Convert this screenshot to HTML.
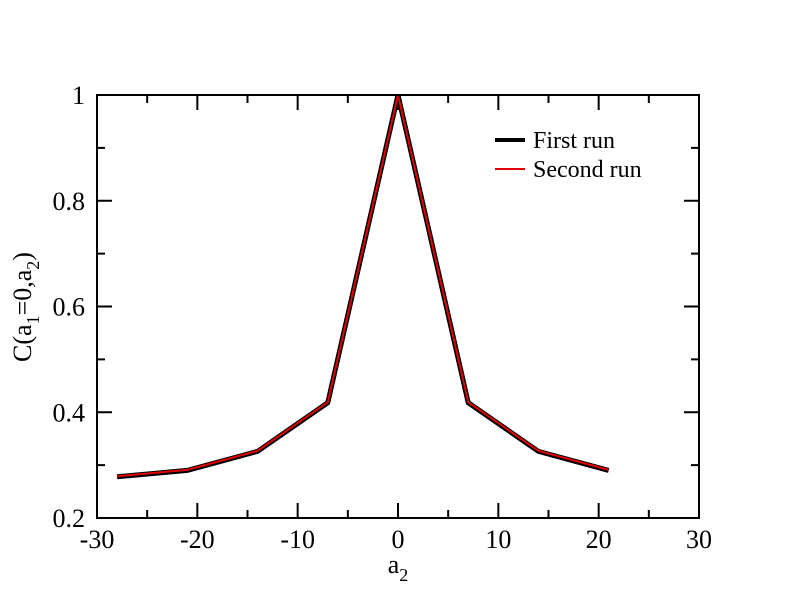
<!DOCTYPE html>
<html><head><meta charset="utf-8"><style>
html,body{margin:0;padding:0;background:#fff}
svg{display:block;font-family:"Liberation Serif",serif}
</style></head><body>
<svg id="chart" width="792" height="609" viewBox="0 0 792 609" xmlns="http://www.w3.org/2000/svg">
<rect x="0" y="0" width="792" height="609" fill="#fff"/>
<g id="ticks"></g>
<g id="lines"></g>
<rect x="97" y="95" width="602" height="423" fill="none" stroke="#000" stroke-width="2"/>
<text x="398" y="573" font-size="26" text-anchor="middle">a<tspan font-size="18" dy="8">2</tspan></text>
<text transform="translate(31,307) rotate(-90)" font-size="26" text-anchor="middle">C(a<tspan font-size="18" dy="8">1</tspan><tspan dy="-8">=0,a</tspan><tspan font-size="18" dy="8">2</tspan><tspan dy="-8">)</tspan></text>
<g>
<line x1="495" y1="140" x2="525" y2="140" stroke="#000" stroke-width="4"/>
<text x="533" y="148" font-size="24">First run</text>
<line x1="495" y1="169" x2="525" y2="169" stroke="#e00000" stroke-width="2"/>
<text x="533" y="177" font-size="24">Second run</text>
</g>
</svg>
<script>
const xValues = [-28, -21, -14, -7, 0, 7, 14, 21];
const firstRun = [0.278, 0.290, 0.326, 0.418, 1.0, 0.418, 0.326, 0.290];
const secondRun = [0.279, 0.291, 0.327, 0.419, 1.0, 0.419, 0.327, 0.291];
const xTicks = [-30, -20, -10, 0, 10, 20, 30];
const yTicks = [0.2, 0.4, 0.6, 0.8, 1];
const yTickLabels = ["0.2", "0.4", "0.6", "0.8", "1"];

const NS = "http://www.w3.org/2000/svg";
const L = 97, R = 699, T = 95, B = 518;
function sx(v){ return L + (v + 30) / 60 * (R - L); }
function sy(v){ return B - (v - 0.2) / 0.8 * (B - T); }
function mk(tag, attrs, parent){
  const e = document.createElementNS(NS, tag);
  for (const k in attrs) e.setAttribute(k, attrs[k]);
  parent.appendChild(e); return e;
}
const tg = document.getElementById('ticks');
// x ticks major + minor
for (let v = -30; v <= 30; v += 5) {
  const major = v % 10 === 0;
  const len = major ? 15 : 8;
  const x = sx(v);
  const t1 = mk('line', {x1:x, y1:B, x2:x, y2:B-len, stroke:'#000', 'stroke-width':2}, tg);
  
  
  const t2 = mk('line', {x1:x, y1:T, x2:x, y2:T+len, stroke:'#000', 'stroke-width':2}, tg);
  
  
}
xTicks.forEach(v => {
  const t = mk('text', {x:sx(v), y:B+30, 'font-size':26, 'text-anchor':'middle'}, tg);
  t.textContent = String(v);
  
  
});
for (let i = 0; i <= 8; i++) {
  const v = 0.2 + i * 0.1;
  const major = i % 2 === 0;
  const len = major ? 15 : 8;
  const y = sy(v);
  const t1 = mk('line', {x1:L, y1:y, x2:L+len, y2:y, stroke:'#000', 'stroke-width':2}, tg);
  
  
  const t2 = mk('line', {x1:R, y1:y, x2:R-len, y2:y, stroke:'#000', 'stroke-width':2}, tg);
  
  
}
yTicks.forEach((v, i) => {
  const t = mk('text', {x:L-12, y:sy(v)+9, 'font-size':26, 'text-anchor':'end'}, tg);
  t.textContent = yTickLabels[i];
  
  
});
const lg = document.getElementById('lines');
function pts(arr){ return xValues.map((x, i) => sx(x) + ',' + sy(arr[i])).join(' '); }
const p1 = mk('polyline', {points:pts(firstRun), fill:'none', stroke:'#000', 'stroke-width':5, 'stroke-linejoin':'miter'}, lg);


const p2 = mk('polyline', {points:pts(secondRun), fill:'none', stroke:'#e00000', 'stroke-width':2, 'stroke-linejoin':'miter'}, lg);


</script>
</body></html>
